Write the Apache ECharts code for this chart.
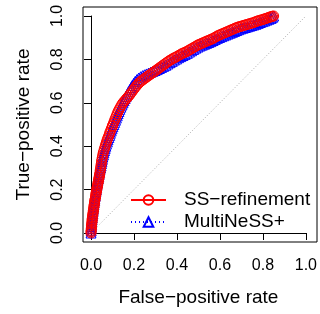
<!DOCTYPE html>
<html>
<head>
<meta charset="utf-8">
<script src="https://cdn.jsdelivr.net/npm/echarts@6/dist/echarts.min.js"></script>
<style>
  html, body { margin: 0; padding: 0; background: #fff; }
  #chart { width: 320px; height: 314px; }
</style>
</head>
<body>
<div id="chart"></div>
<script>
// ROC points: [false-positive rate, true-positive rate]
var ssRefinement = [
  [0.000, 0.000], [0.000, 0.006], [0.001, 0.012], [0.001, 0.019], [0.002, 0.026],
  [0.002, 0.033], [0.003, 0.040], [0.004, 0.047], [0.005, 0.054], [0.005, 0.061],
  [0.006, 0.068], [0.007, 0.075], [0.008, 0.082], [0.009, 0.089], [0.010, 0.096],
  [0.011, 0.103], [0.012, 0.110], [0.013, 0.117], [0.014, 0.124], [0.015, 0.131],
  [0.016, 0.138], [0.017, 0.145], [0.018, 0.152], [0.020, 0.159], [0.021, 0.166],
  [0.022, 0.173], [0.023, 0.180], [0.024, 0.187], [0.026, 0.194], [0.027, 0.201],
  [0.028, 0.208], [0.030, 0.215], [0.031, 0.222], [0.032, 0.229], [0.034, 0.236],
  [0.035, 0.243], [0.036, 0.250], [0.038, 0.257], [0.039, 0.264], [0.040, 0.271],
  [0.042, 0.280], [0.043, 0.290], [0.045, 0.300], [0.046, 0.310], [0.048, 0.320],
  [0.049, 0.330], [0.051, 0.340], [0.053, 0.350], [0.055, 0.360], [0.057, 0.370],
  [0.060, 0.380], [0.063, 0.390], [0.066, 0.400], [0.069, 0.410], [0.072, 0.419],
  [0.075, 0.428], [0.078, 0.437], [0.082, 0.446], [0.085, 0.455], [0.088, 0.464],
  [0.092, 0.473], [0.095, 0.482], [0.099, 0.491], [0.100, 0.495], [0.104, 0.505],
  [0.108, 0.515], [0.112, 0.525], [0.116, 0.535], [0.120, 0.545], [0.124, 0.555],
  [0.128, 0.564], [0.133, 0.573], [0.138, 0.582], [0.143, 0.591], [0.148, 0.599],
  [0.154, 0.606], [0.160, 0.613], [0.166, 0.620], [0.172, 0.627], [0.178, 0.634],
  [0.184, 0.642], [0.190, 0.650], [0.196, 0.658], [0.202, 0.666], [0.208, 0.674],
  [0.214, 0.681], [0.220, 0.688], [0.226, 0.694], [0.233, 0.700], [0.240, 0.705],
  [0.247, 0.710], [0.254, 0.715], [0.261, 0.720], [0.268, 0.725], [0.275, 0.730],
  [0.282, 0.735], [0.289, 0.740], [0.296, 0.745], [0.303, 0.750], [0.310, 0.755],
  [0.317, 0.760], [0.324, 0.765], [0.331, 0.770], [0.338, 0.775], [0.345, 0.780],
  [0.352, 0.785], [0.359, 0.790], [0.366, 0.795], [0.373, 0.799], [0.380, 0.803],
  [0.387, 0.807], [0.394, 0.810], [0.401, 0.814], [0.408, 0.818], [0.415, 0.822],
  [0.422, 0.826], [0.429, 0.829], [0.436, 0.832], [0.443, 0.835], [0.450, 0.839],
  [0.457, 0.843], [0.464, 0.847], [0.471, 0.851], [0.478, 0.855], [0.485, 0.859],
  [0.492, 0.863], [0.499, 0.867], [0.506, 0.870], [0.513, 0.873], [0.520, 0.876],
  [0.527, 0.879], [0.534, 0.882], [0.541, 0.885], [0.548, 0.888], [0.555, 0.891],
  [0.562, 0.894], [0.569, 0.897], [0.576, 0.901], [0.583, 0.905], [0.590, 0.909],
  [0.597, 0.912], [0.604, 0.915], [0.611, 0.918], [0.618, 0.921], [0.625, 0.924],
  [0.632, 0.927], [0.639, 0.930], [0.646, 0.933], [0.653, 0.936], [0.660, 0.939],
  [0.667, 0.942], [0.674, 0.945], [0.681, 0.948], [0.688, 0.950], [0.695, 0.952],
  [0.702, 0.954], [0.709, 0.956], [0.716, 0.958], [0.723, 0.960], [0.730, 0.962],
  [0.737, 0.964], [0.744, 0.966], [0.751, 0.968], [0.758, 0.970], [0.765, 0.973],
  [0.772, 0.976], [0.779, 0.978], [0.786, 0.980], [0.793, 0.982], [0.800, 0.984],
  [0.806, 0.986], [0.812, 0.988], [0.818, 0.990], [0.824, 0.992], [0.830, 0.994],
  [0.835, 0.996], [0.840, 0.997], [0.845, 0.999], [0.850, 1.000]
];
var multiNeSS = [
  [0.000, 0.000], [0.001, 0.010], [0.001, 0.020], [0.002, 0.030], [0.003, 0.040],
  [0.004, 0.050], [0.005, 0.060], [0.006, 0.070], [0.007, 0.080], [0.009, 0.090],
  [0.010, 0.100], [0.011, 0.110], [0.013, 0.120], [0.014, 0.130], [0.015, 0.140],
  [0.017, 0.150], [0.018, 0.160], [0.020, 0.170], [0.021, 0.180], [0.023, 0.190],
  [0.025, 0.200], [0.026, 0.210], [0.028, 0.220], [0.030, 0.230], [0.032, 0.240],
  [0.034, 0.250], [0.036, 0.260], [0.038, 0.270], [0.040, 0.280], [0.042, 0.290],
  [0.045, 0.300], [0.047, 0.310], [0.049, 0.320], [0.051, 0.330], [0.053, 0.340],
  [0.055, 0.350], [0.058, 0.360], [0.060, 0.370], [0.063, 0.380], [0.066, 0.390],
  [0.069, 0.400], [0.072, 0.410], [0.076, 0.420], [0.079, 0.430], [0.083, 0.440],
  [0.087, 0.450], [0.090, 0.460], [0.094, 0.470], [0.098, 0.480], [0.102, 0.490],
  [0.106, 0.500], [0.110, 0.510], [0.114, 0.520], [0.118, 0.530], [0.122, 0.540],
  [0.126, 0.550], [0.130, 0.560], [0.134, 0.570], [0.139, 0.580], [0.144, 0.590],
  [0.149, 0.600], [0.154, 0.610], [0.159, 0.620], [0.164, 0.630], [0.169, 0.640],
  [0.174, 0.650], [0.180, 0.660], [0.186, 0.670], [0.192, 0.680], [0.199, 0.690],
  [0.206, 0.699], [0.214, 0.707], [0.222, 0.714], [0.231, 0.720], [0.240, 0.725],
  [0.249, 0.729], [0.258, 0.733], [0.268, 0.737], [0.278, 0.741], [0.288, 0.745],
  [0.298, 0.749], [0.308, 0.753], [0.318, 0.758], [0.328, 0.763], [0.338, 0.768],
  [0.348, 0.773], [0.358, 0.779], [0.368, 0.785], [0.378, 0.791], [0.388, 0.797],
  [0.398, 0.802], [0.408, 0.808], [0.418, 0.813], [0.428, 0.818], [0.438, 0.823],
  [0.448, 0.828], [0.458, 0.834], [0.468, 0.840], [0.478, 0.846], [0.488, 0.852],
  [0.498, 0.857], [0.508, 0.862], [0.518, 0.866], [0.528, 0.870], [0.538, 0.874],
  [0.548, 0.878], [0.558, 0.882], [0.568, 0.887], [0.578, 0.892], [0.588, 0.897],
  [0.598, 0.901], [0.608, 0.905], [0.618, 0.909], [0.628, 0.913], [0.638, 0.917],
  [0.648, 0.921], [0.658, 0.925], [0.668, 0.929], [0.678, 0.933], [0.688, 0.937],
  [0.698, 0.941], [0.708, 0.944], [0.718, 0.947], [0.728, 0.950], [0.738, 0.953],
  [0.748, 0.956], [0.758, 0.959], [0.768, 0.962], [0.778, 0.966], [0.788, 0.970],
  [0.798, 0.974], [0.808, 0.977], [0.818, 0.981], [0.828, 0.985], [0.838, 0.989],
  [0.845, 0.994], [0.850, 1.000]
];
var chanceLine = [[0, 0], [1, 1]];

var font = '"Liberation Sans", Arial, sans-serif';
var chart = echarts.init(document.getElementById('chart'));

var option = {
  animation: false,
  backgroundColor: '#fff',
  textStyle: { fontFamily: font },
  grid: { left: 91, right: 11, top: 16, bottom: 81 },
  legend: {
    orient: 'vertical',
    left: 130,
    top: 189,
    padding: 0,
    itemWidth: 35,
    itemHeight: 12,
    itemGap: 0,
    data: ['SS−refinement', 'MultiNeSS+'],
    textStyle: { fontFamily: font, fontSize: 19, lineHeight: 22, color: '#000', padding: [0, 0, 0, 13] }
  },
  xAxis: {
    type: 'value',
    min: 0, max: 1, interval: 0.2,
    offset: 9,
    name: 'False−positive rate',
    nameLocation: 'middle',
    nameGap: 46,
    nameTextStyle: { fontFamily: font, fontSize: 19, color: '#000' },
    axisLine: { show: true, lineStyle: { color: '#000', width: 1 } },
    axisTick: { show: true, length: 7, lineStyle: { color: '#000' } },
    axisLabel: {
      fontFamily: font, fontSize: 16, color: '#000', margin: 16,
      formatter: function (v) { return v.toFixed(1); }
    },
    splitLine: { show: false }
  },
  yAxis: {
    type: 'value',
    min: 0, max: 1, interval: 0.2,
    offset: 8,
    name: 'True−positive rate',
    nameLocation: 'middle',
    nameGap: 50,
    nameTextStyle: { fontFamily: font, fontSize: 19, color: '#000' },
    axisLine: { show: true, lineStyle: { color: '#000', width: 1 } },
    axisTick: { show: true, length: 7, lineStyle: { color: '#000' } },
    axisLabel: {
      fontFamily: font, fontSize: 16, color: '#000', margin: 17, rotate: 90,
      formatter: function (v) { return v.toFixed(1); }
    },
    splitLine: { show: false }
  },
  graphic: [{
    type: 'rect',
    shape: { x: 83, y: 7, width: 234, height: 235 },
    style: { fill: 'none', stroke: '#000', lineWidth: 1 },
    silent: true
  }],
  series: [
    {
      name: 'chance',
      type: 'line',
      data: chanceLine,
      symbol: 'none',
      silent: true,
      lineStyle: { color: '#aaaaaa', width: 1, type: [1, 2] },
      z: 1
    },
    {
      name: 'MultiNeSS+',
      type: 'line',
      data: multiNeSS,
      symbol: 'triangle',
      symbolSize: 10,
      showAllSymbol: true,
      clip: false,
      itemStyle: { color: 'rgba(0,0,0,0)', borderColor: '#0000ff', borderWidth: 1 },
      lineStyle: { color: '#0000ff', width: 1, type: [1, 3] },
      z: 2
    },
    {
      name: 'SS−refinement',
      type: 'line',
      data: ssRefinement,
      symbol: 'circle',
      symbolSize: 10,
      showAllSymbol: true,
      clip: false,
      itemStyle: { color: 'rgba(0,0,0,0)', borderColor: '#ff0000', borderWidth: 1 },
      lineStyle: { color: '#ff0000', width: 1 },
      z: 3
    }
  ]
};

chart.setOption(option);
</script>
</body>
</html>
